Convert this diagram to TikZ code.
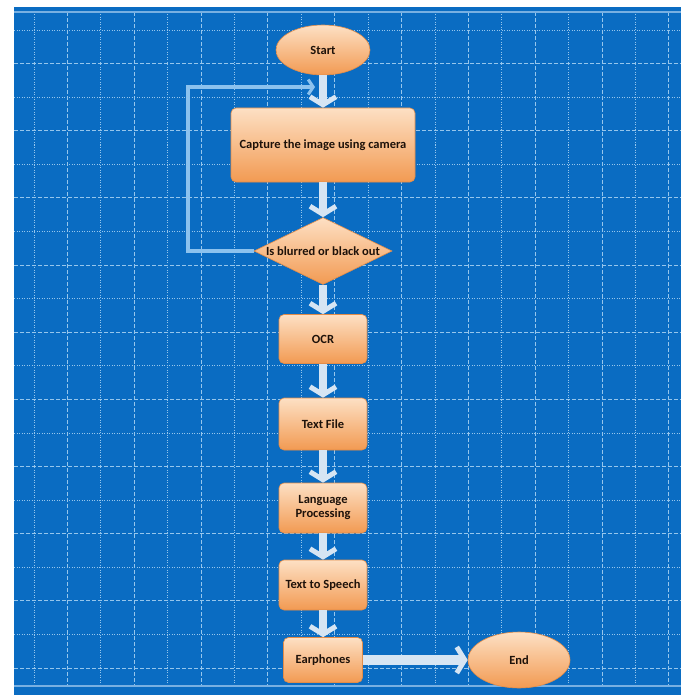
\documentclass[tikz,border=0pt]{standalone}
\usepackage{fontspec}
\setmainfont{Carlito}
\usetikzlibrary{shapes.geometric,arrows.meta}

\definecolor{bgblue}{RGB}{10,108,194}
\definecolor{gridblue}{RGB}{150,198,236}
\definecolor{rimblue}{RGB}{120,176,226}
\definecolor{flowgray}{RGB}{214,229,243}
\definecolor{loopblue}{RGB}{140,194,238}
\definecolor{nodetop}{RGB}{253,224,196}
\definecolor{nodemid}{RGB}{249,190,136}
\definecolor{nodebot}{RGB}{242,154,82}
\definecolor{nodeedge}{RGB}{226,140,72}
\definecolor{inkbrown}{RGB}{30,18,10}

\begin{document}
\begin{tikzpicture}[x=1pt, y=-1pt,
    every node/.style={font=\fontsize{12.5}{14}\selectfont\bfseries, text=inkbrown},
    box/.style={draw=nodeedge, line width=0.6pt, rounded corners=5pt,
        top color=nodetop, middle color=nodemid, bottom color=nodebot,
        minimum width=88pt, minimum height=49pt, align=center, inner sep=2pt},
    oval/.style={ellipse, draw=nodeedge, line width=0.6pt,
        top color=nodetop, middle color=nodemid, bottom color=nodebot,
        minimum width=94pt, minimum height=50pt},
    decision/.style={diamond, draw=nodeedge, line width=0.6pt,
        top color=nodetop, middle color=nodemid, bottom color=nodebot,
        minimum width=138pt, minimum height=67pt, inner sep=0pt},
    flow/.style={draw=flowgray, line width=8pt,
        -{Straight Barb[length=8pt, width=26pt, line width=5pt]}},
    flowwide/.style={flow, line width=10pt},
    back/.style={draw=loopblue, line width=3.5pt,
        -{Straight Barb[length=5pt, width=15pt, line width=3pt]}}
]
    % background and frame
    \useasboundingbox (0,0) rectangle (681,695);
    \fill[bgblue] (14,7) rectangle (681,695);

    % grid: dotted minor lines, dashed major lines
    \foreach \j in {0,...,9} {
        \draw[gridblue, line width=0.8pt, dash pattern=on 1pt off 1.5pt]
            ({34+66.84*\j},12) -- ({34+66.84*\j},686);
        \draw[gridblue, line width=1pt, dash pattern=on 4pt off 2pt]
            ({67.4+66.84*\j},12) -- ({67.4+66.84*\j},686);
        \draw[gridblue, line width=0.8pt, dash pattern=on 1pt off 1.5pt]
            (14,{30+67.16*\j}) -- (681,{30+67.16*\j});
        \draw[gridblue, line width=1pt, dash pattern=on 4pt off 2pt]
            (14,{63.6+67.16*\j}) -- (681,{63.6+67.16*\j});
    }
    \draw[rimblue, line width=2.5pt] (14,12) -- (681,12);
    \draw[rimblue, line width=2.5pt] (14,686) -- (681,686);

    % nodes
    \node[oval] (start) at (323,50) {Start};
    \node[box, minimum width=184pt, minimum height=74pt] (capture) at (323,145) {Capture the image using camera};
    \node[decision, label={center:Is blurred or black out}] (check) at (323,251) {};
    \node[box] (ocr) at (323,339) {OCR};
    \node[box, minimum height=52pt] (textfile) at (323,424) {Text File};
    \node[box, minimum height=50pt] (lang) at (323,508) {Language\\Processing};
    \node[box, minimum height=50pt] (tts) at (323,585) {Text to Speech};
    \node[box, minimum width=79pt, minimum height=45pt] (ear) at (323,660) {Earphones};
    \node[oval, minimum width=102pt, minimum height=56pt] (end) at (519,660) {End};

    % feedback loop
    \coordinate (loopcorner) at (188,87);
    \coordinate (loopend) at (315,87);
    \draw[back] (check.west) -| (loopcorner) -- (loopend);

    % main flow
    \draw[flow] (start.south) -- (capture.north);
    \draw[flow] (capture.south) -- (check.north);
    \draw[flow] (check.south) -- (ocr.north);
    \draw[flow] (ocr.south) -- (textfile.north);
    \draw[flow] (textfile.south) -- (lang.north);
    \draw[flow] (lang.south) -- (tts.north);
    \draw[flow] (tts.south) -- (ear.north);
    \draw[flowwide] (ear.east) -- (end.west);
\end{tikzpicture}
\end{document}
